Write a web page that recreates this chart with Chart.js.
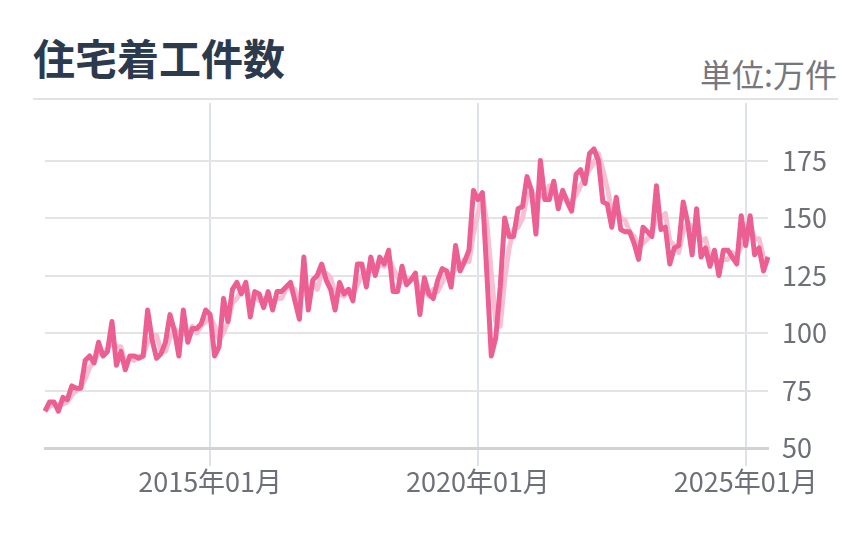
<!DOCTYPE html>
<html lang="ja">
<head>
<meta charset="utf-8">
<script src="https://cdn.jsdelivr.net/npm/chart.js@4.4.1/dist/chart.umd.min.js"></script>
<style>
  body { margin: 0; background: #fff; font-family: "Noto Sans CJK JP", sans-serif; }
  #wrap { position: relative; width: 868px; height: 550px; }
  #title { position: absolute; left: 33px; top: 36px; font-size: 42px; font-weight: 700; color: #2c3a4d; line-height: 1; }
  #unit { position: absolute; right: 31px; top: 57px; font-size: 32px; color: #77777d; line-height: 1; }
  #rule { position: absolute; left: 33px; width: 805px; top: 98px; height: 2px; background: #e2e2e2; }
  canvas { position: absolute; left: 0; top: 0; }
</style>
</head>
<body>
<div id="wrap">
  <div id="title">住宅着工件数</div>
  <div id="unit">単位:万件</div>
  <div id="rule"></div>
  <canvas id="lineChart" width="868" height="550"></canvas>
</div>
<script>
// 2011年12月 ～ 2025年06月（月次）
const startYear = 2011, startMonth = 12, monthCount = 163;
const months = [];
for (let i = 0; i < monthCount; i++) {
  const m = (startMonth - 1 + i) % 12 + 1;
  const y = startYear + Math.floor((startMonth - 1 + i) / 12);
  months.push(y + '年' + String(m).padStart(2, '0') + '月');
}

// 住宅着工件数（万件）
const starts = [
  66, 70, 70, 66, 72, 71, 77, 76, 76, 88, 90, 87,
  96, 90, 92, 105, 86, 92, 84, 90, 90, 89, 90, 110,
  97, 89, 91, 96, 108, 101, 90, 110, 96, 102, 102, 104,
  110, 108, 90, 94, 115, 105, 119, 122, 117, 122, 107, 118,
  117, 111, 118, 110, 118, 118, 120, 122, 114, 106, 133, 110,
  123, 125, 130, 123, 119, 110, 122, 117, 119, 114, 130, 130,
  120, 133, 125, 133, 130, 136, 118, 118, 129, 121, 123, 126,
  108, 124, 117, 115, 123, 128, 127, 120, 138, 127, 131, 136,
  162, 158, 161, 126, 90, 98, 120, 150, 142, 142, 154, 155,
  168, 162, 143, 175, 158, 158, 166, 154, 162, 157, 153, 169,
  171, 165, 178, 180, 175, 157, 156, 146, 159, 145, 144, 144,
  139, 132, 146, 144, 142, 164, 145, 146, 130, 137, 138, 157,
  148, 134, 154, 133, 137, 129, 136, 125, 136, 136, 133, 130,
  151, 138, 151, 134, 137, 127, 133
];

// 平滑線（薄い線）
const smooth = [
  66, 68, 69, 69, 69, 70, 73, 75, 76, 80, 85, 88,
  91, 91, 93, 96, 94, 94, 87, 89, 88, 90, 90, 96,
  99, 99, 92, 92, 98, 102, 100, 100, 99, 103, 100, 103,
  105, 107, 103, 97, 100, 105, 113, 115, 119, 120, 115, 116,
  114, 115, 115, 113, 115, 115, 119, 120, 119, 114, 118, 116,
  122, 119, 126, 126, 124, 117, 117, 116, 119, 117, 121, 125,
  127, 128, 126, 130, 129, 133, 128, 124, 122, 123, 124, 123,
  119, 119, 116, 119, 118, 122, 126, 125, 128, 128, 132, 131,
  143, 152, 160, 148, 126, 105, 103, 123, 137, 145, 146, 150,
  159, 162, 158, 160, 159, 164, 161, 159, 161, 158, 157, 160,
  164, 168, 171, 174, 178, 171, 163, 153, 154, 150, 149, 144,
  142, 138, 139, 141, 144, 150, 150, 152, 140, 138, 135, 144,
  148, 146, 145, 140, 141, 133, 134, 130, 132, 132, 135, 133,
  138, 140, 147, 141, 141, 133, 132
];

const yTicks = [50, 75, 100, 125, 150, 175];
const xTickYears = [2015, 2020, 2025];

const tickFont = { family: '"Noto Sans CJK JP", sans-serif', size: 27 };

const ctx = document.getElementById('lineChart');
new Chart(ctx, {
  type: 'line',
  data: {
    labels: months,
    datasets: [{
      label: '住宅着工件数',
      data: starts,
      borderColor: '#ec5f92',
      borderWidth: 5,
      pointRadius: 0,
      borderJoinStyle: 'round',
      tension: 0,
      order: 0
    }, {
      label: '平滑',
      data: smooth,
      borderColor: '#f8bfd3',
      borderWidth: 5,
      pointRadius: 0,
      borderJoinStyle: 'round',
      tension: 0,
      order: 1
    }]
  },
  options: {
    responsive: false,
    animation: false,
    layout: { padding: { left: 45, top: 103, right: 0, bottom: 0 } },
    plugins: { legend: { display: false }, tooltip: { enabled: false } },
    scales: {
      x: {
        afterFit: (axis) => { axis.height = 102; },
        border: { display: true, color: '#d2d2d2', width: 3 },
        grid: { color: '#dde1ea', lineWidth: 2, tickLength: 18 },
        ticks: {
          autoSkip: false,
          maxRotation: 0,
          padding: 0,
          color: '#6e7079',
          font: tickFont,
          callback: function (value) {
            const lab = months[value];
            const y = parseInt(lab.slice(0, 4), 10);
            return (lab.endsWith('01月') && xTickYears.includes(y)) ? lab : null;
          }
        }
      },
      y: {
        position: 'right',
        min: 50,
        max: 200,
        afterFit: (axis) => { axis.width = 100; },
        border: { display: false },
        grid: {
          drawTicks: false,
          lineWidth: 2,
          color: (c) => c.tick && c.tick.value === 50 ? '#d2d2d2' : '#e4e4e4'
        },
        ticks: {
          stepSize: 25,
          padding: 14,
          color: '#6e7079',
          font: tickFont,
          callback: (v) => yTicks.includes(v) ? v : null
        }
      }
    }
  }
});
</script>
</body>
</html>
